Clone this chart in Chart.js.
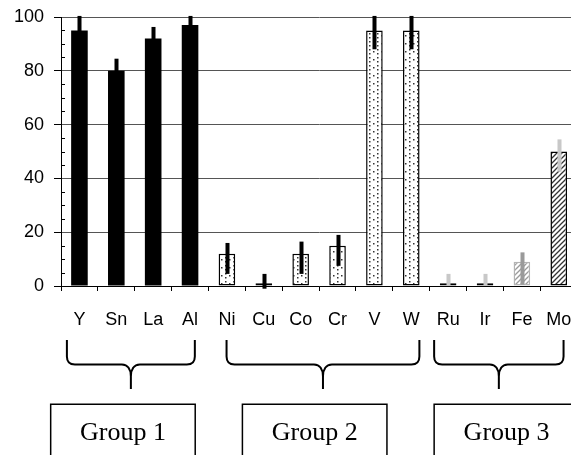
<!DOCTYPE html>
<html><head><meta charset="utf-8">
<script src="https://cdn.jsdelivr.net/npm/chart.js@4.4.0/dist/chart.umd.min.js"></script>
<style>
html,body{margin:0;padding:0;overflow:hidden;background:#fff;width:571px;height:455px}
#clip{position:relative;width:571px;height:455px;overflow:hidden}
#wrap{position:absolute;left:0;top:0;width:580px;height:455px}
#c{display:block;width:580px;height:455px}
</style>
</head><body><div id="clip"><div id="wrap"><canvas id="c" width="580" height="455"></canvas></div></div>
<script>
// ---- data ----
const categories = ['Y','Sn','La','Al','Ni','Cu','Co','Cr','V','W','Ru','Ir','Fe','Mo'];
const values     = [95, 80, 92, 97, 12, 1, 12, 15, 95, 95, 1, 1, 9, 50];
const errLow     = [90, 76, 88, 93, 4.5, -1, 4.5, 7.5, 88, 88, 0, 0, 0.5, 42.5];
const errHigh    = [100.4, 84.5, 96.3, 100.4, 16, 4.5, 16.5, 19, 100.4, 100.4, 4.5, 4.5, 12.5, 54.5];
const yTicks     = [0, 20, 40, 60, 80, 100];
const groupNames = ['Group 1', 'Group 2', 'Group 3'];
const groupMembers = [['Y','Sn','La','Al'], ['Ni','Cu','Co','Cr','V','W'], ['Ru','Ir','Fe','Mo']];

// ---- styles ----
function makePattern(draw, w, h) {
  const c = document.createElement('canvas'); c.width = w; c.height = h;
  const g = c.getContext('2d'); draw(g, w, h);
  return document.getElementById('c').getContext('2d').createPattern(c, 'repeat');
}
const dots = makePattern((g, w, h) => {
  g.fillStyle = '#fff'; g.fillRect(0, 0, w, h);
  g.fillStyle = '#333';
  g.fillRect(1, 1, 1.5, 1.5); g.fillRect(1, 5, 1.5, 1.5); g.fillRect(5, 3, 1.5, 1.5);
}, 8, 8);
function hatch(color, bg) {
  return makePattern((g, w, h) => {
    g.fillStyle = bg; g.fillRect(0, 0, w, h);
    g.strokeStyle = color; g.lineWidth = 1.3;
    g.beginPath();
    g.moveTo(-1, h + 1); g.lineTo(w + 1, -1);
    g.moveTo(-1, 1); g.lineTo(1, -1);
    g.moveTo(w - 1, h + 1); g.lineTo(w + 1, h - 1);
    g.stroke();
  }, 5, 5);
}
const hatchDark = hatch('#333', '#fff');
const hatchLight = hatch('#9a9a9a', '#fff');
const styleFor = {
  Y: ['#000', '#000', '#000'], Sn: ['#000', '#000', '#000'], La: ['#000', '#000', '#000'], Al: ['#000', '#000', '#000'],
  Ni: [dots, '#000', '#000'], Cu: ['#800080', '#000', '#000'], Co: [dots, '#000', '#000'], Cr: [dots, '#000', '#000'],
  V: [dots, '#000', '#000'], W: [dots, '#000', '#000'],
  Ru: ['#2e8b57', '#000', '#c8c8c8'], Ir: ['#2e8b57', '#000', '#c8c8c8'],
  Fe: [hatchLight, '#b4b4b4', '#9a9a9a'], Mo: [hatchDark, '#000', '#c8c8c8']
};
const fills = categories.map(c => styleFor[c][0]);
const borders = categories.map(c => styleFor[c][1]);
const errColors = categories.map(c => styleFor[c][2]);

// group annotation geometry (fractional category positions)
const braceSpan = [[-0.34, 3.13], [3.99, 9.22], [9.62, 13.13]];
const boxSpan = [[-0.78, 3.14], [4.42, 8.34], [9.62, 13.55]];

const errorBarPlugin = {
  id: 'errorBars',
  afterDatasetsDraw(chart) {
    const ctx = chart.ctx, ys = chart.scales.y;
    const meta = chart.getDatasetMeta(0);
    ctx.save();
    meta.data.forEach((el, i) => {
      const y1 = ys.getPixelForValue(errHigh[i]);
      const y2 = ys.getPixelForValue(errLow[i]);
      ctx.fillStyle = errColors[i];
      ctx.fillRect(Math.round(el.x) - 1.5, y1, 4, y2 - y1);
    });
    ctx.restore();
  }
};

const decorPlugin = {
  id: 'decor',
  afterDraw(chart) {
    const ctx = chart.ctx, xs = chart.scales.x, ys = chart.scales.y;
    const area = chart.chartArea;
    ctx.save();
    // minor ticks on y axis
    ctx.strokeStyle = '#000'; ctx.lineWidth = 1;
    for (let v = 5; v < 100; v += 5) {
      if (yTicks.includes(v)) continue;
      const y = Math.round(ys.getPixelForValue(v)) + 0.5;
      ctx.beginPath(); ctx.moveTo(area.left, y); ctx.lineTo(area.left + 4, y); ctx.stroke();
    }
    // braces
    const topY = 340, midY = 364.5, tipY = 389;
    ctx.lineWidth = 2; ctx.strokeStyle = '#000';
    braceSpan.forEach(([a, b]) => {
      const L = xs.getPixelForValue(a), R = xs.getPixelForValue(b), C = (L + R) / 2;
      ctx.beginPath();
      ctx.moveTo(L, topY); ctx.lineTo(L, midY - 8);
      ctx.quadraticCurveTo(L, midY, L + 8, midY);
      ctx.lineTo(C - 9, midY);
      ctx.bezierCurveTo(C - 3, midY, C, midY + 5, C, midY + 12);
      ctx.lineTo(C, tipY);
      ctx.moveTo(C, midY + 12);
      ctx.bezierCurveTo(C, midY + 5, C + 3, midY, C + 9, midY);
      ctx.lineTo(R - 8, midY);
      ctx.quadraticCurveTo(R, midY, R, midY - 8);
      ctx.lineTo(R, topY);
      ctx.stroke();
    });
    // boxes with group names
    ctx.lineWidth = 1.5;
    ctx.font = '26px "Liberation Serif", "Times New Roman", serif';
    ctx.fillStyle = '#000'; ctx.textAlign = 'center'; ctx.textBaseline = 'alphabetic';
    boxSpan.forEach(([a, b], i) => {
      const L = xs.getPixelForValue(a), R = xs.getPixelForValue(b);
      ctx.strokeRect(L, 404.25, R - L, 80);
      ctx.fillText(groupNames[i], (L + R) / 2, 440);
    });
    ctx.restore();
  }
};

new Chart(document.getElementById('c'), {
  type: 'bar',
  data: {
    labels: categories,
    datasets: [{
      data: values,
      backgroundColor: fills,
      borderColor: borders,
      borderWidth: categories.map(c => groupMembers[0].includes(c) ? 0 : 1.5),
      borderSkipped: false,
      barPercentage: 0.45,
      categoryPercentage: 1
    }]
  },
  options: {
    responsive: false,
    maintainAspectRatio: false,
    animation: false,
    devicePixelRatio: 1,
    layout: { padding: { top: 17, right: 2.8, left: 0, bottom: 0 } },
    plugins: { legend: { display: false }, tooltip: { enabled: false } },
    scales: {
      x: {
        offset: true,
        afterFit(s) { s.height = 455 - 286; s.paddingLeft = 0; s.paddingRight = 0; },
        grid: { display: true, drawOnChartArea: false, offset: true, tickLength: 5, tickColor: '#000', tickWidth: 1 },
        border: { display: true, color: '#000', width: 1 },
        ticks: { color: '#000', font: { family: '"Liberation Sans", Arial, sans-serif', size: 18 }, padding: 18, maxRotation: 0, autoSkip: false }
      },
      y: {
        min: 0, max: 100,
        afterFit(s) { s.width = 61; s.paddingTop = 0; s.paddingBottom = 0; },
        afterBuildTicks(s) { s.ticks = yTicks.map(v => ({ value: v })); },
        grid: { color: '#555', lineWidth: 1, tickLength: 7, tickColor: '#000', tickWidth: 1 },
        border: { display: true, color: '#000', width: 1 },
        ticks: { color: '#000', font: { family: '"Liberation Sans", Arial, sans-serif', size: 18 }, padding: 10 }
      }
    }
  },
  plugins: [errorBarPlugin, decorPlugin]
});
</script>
</body></html>
